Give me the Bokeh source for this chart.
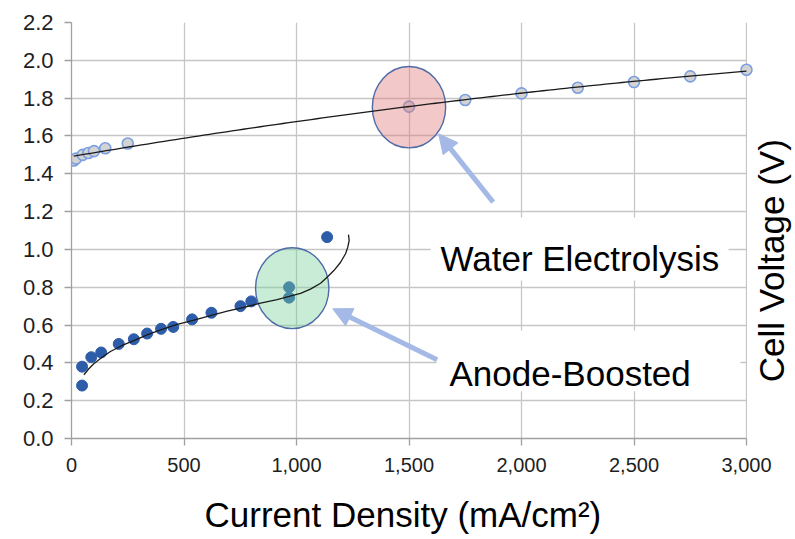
import numpy as np
from bokeh.plotting import figure
from bokeh.models import (Range1d, FixedTicker, NumeralTickFormatter, Label, LinearAxis,
                          BoxAnnotation, Arrow, NormalHead)
from bokeh.embed import file_html
from bokeh.resources import INLINE

# Water electrolysis polarization data (mA/cm2, V)
we_current = [10, 20, 50, 75, 100, 150, 250, 1500, 1750, 2000, 2250, 2500, 2750, 3000]
we_voltage = [1.47, 1.48, 1.50, 1.51, 1.52, 1.535, 1.56, 1.755, 1.79, 1.825, 1.855, 1.885, 1.915, 1.95]

# Anode-boosted electrolysis polarization data (mA/cm2, V)
ab_current = [47, 47, 88, 132, 210, 277, 336, 398, 452, 536, 622, 751, 799, 967, 967, 1136]
ab_voltage = [0.38, 0.28, 0.43, 0.455, 0.50, 0.525, 0.555, 0.58, 0.59, 0.63, 0.665, 0.70, 0.725, 0.80, 0.745, 1.065]

# Trend curve for the anode-boosted cell
ab_trend_current = [55, 77, 99, 136, 173, 225, 277, 336, 396, 470, 536, 618, 692, 766, 840,
                    914, 967, 1018, 1062, 1107, 1136, 1166, 1196, 1218, 1228, 1234, 1231]
ab_trend_voltage = [0.337, 0.369, 0.395, 0.43, 0.46, 0.492, 0.518, 0.548, 0.575, 0.603, 0.624,
                    0.65, 0.673, 0.694, 0.716, 0.735, 0.751, 0.768, 0.79, 0.821, 0.853, 0.888,
                    0.932, 0.977, 1.012, 1.047, 1.078]

x_ticks = [0, 500, 1000, 1500, 2000, 2500, 3000]
y_ticks = [0.0, 0.2, 0.4, 0.6, 0.8, 1.0, 1.2, 1.4, 1.6, 1.8, 2.0, 2.2]
X_MAX = 3000
Y_MAX = 2.2
X_TITLE = "Current Density (mA/cm²)"
X_TITLE_AT = 1473   # current density under the title's centre

FONT = "Liberation Sans"
GRID = "#c6c6c6"
AXIS = "#a0a0a0"
ARROW = "#a4b9e6"

W, H = 795, 539
LEFT, AXIS_END_PX = 71, 746
# the plotting frame runs to the right edge so the voltage title can sit
# beside the axis; the visible axis stops at X_MAX
x_end = X_MAX * (W - LEFT) / (AXIS_END_PX - LEFT)

p = figure(width=W, height=H, output_backend="svg", toolbar_location=None,
           x_range=Range1d(0, x_end), y_range=Range1d(0, Y_MAX),
           min_border_left=LEFT, min_border_right=0, min_border_top=22,
           min_border_bottom=101)
p.outline_line_color = None
p.background_fill_color = "white"
p.border_fill_color = "white"

for ax in (p.xaxis[0], p.yaxis[0]):
    ax.axis_line_color = AXIS
    ax.axis_line_width = 1.3
    ax.major_tick_line_color = AXIS
    ax.major_tick_line_width = 1.3
    ax.major_tick_out = 7
    ax.major_tick_in = 0
    ax.minor_tick_line_color = None
    ax.major_label_text_font = FONT
    ax.major_label_text_color = "#1e1e1e"

p.xaxis.bounds = (0, X_MAX)
p.xaxis.ticker = FixedTicker(ticks=x_ticks)
p.xaxis.formatter = NumeralTickFormatter(format="0,0")
p.xaxis.major_label_text_font_size = "20px"
p.xaxis.major_label_standoff = 12

p.yaxis.ticker = FixedTicker(ticks=y_ticks)
p.yaxis.formatter = NumeralTickFormatter(format="0.0")
p.yaxis.major_label_text_font_size = "22px"
p.yaxis.major_label_standoff = 11

# current density title, set as the single label of a bare second axis
title_axis = LinearAxis(ticker=FixedTicker(ticks=[X_TITLE_AT]),
                        major_label_overrides={X_TITLE_AT: X_TITLE},
                        axis_line_color=None, major_tick_line_color=None,
                        minor_tick_line_color=None, major_tick_out=0, major_tick_in=0,
                        major_label_standoff=20, major_label_text_font=FONT,
                        major_label_text_font_size="35px", major_label_text_color="black")
p.add_layout(title_axis, "below")

p.xgrid.grid_line_color = GRID
p.ygrid.grid_line_color = GRID
p.xgrid.grid_line_width = 1.3
p.ygrid.grid_line_width = 1.3

# blank strip right of the axis end, over the grid lines
p.add_layout(BoxAnnotation(left=X_MAX + 3, right=x_end, bottom=0, top=Y_MAX,
                           fill_color="white", fill_alpha=1.0, line_color=None,
                           level="underlay"))

# data points
p.scatter(ab_current, ab_voltage, marker="circle", size=11,
          fill_color="#2d5ca9", line_color="#2d5ca9", line_width=1)
p.scatter(we_current, we_voltage, marker="circle", size=11,
          fill_color="#d3d3d3", line_color="#7c9fe0", line_width=1.6)

# highlight ellipses
p.ellipse(x=[981], y=[0.795], width=326, height=0.428,
          fill_color="#75cf98", fill_alpha=0.4, line_color="#4e6ba8", line_width=1.4)
p.ellipse(x=[1500], y=[1.752], width=326, height=0.43,
          fill_color="#de7575", fill_alpha=0.4, line_color="#4e6ba8", line_width=1.4)

# trend lines
coef = np.polyfit(we_current, we_voltage, 2)
we_fit_x = np.linspace(min(we_current), max(we_current), 120)
p.line(we_fit_x, np.polyval(coef, we_fit_x), line_color="#1a1a1a", line_width=1.3)
p.line(ab_trend_current, ab_trend_voltage, line_color="#1a1a1a", line_width=1.3)

# white boxes behind the callout texts
p.add_layout(BoxAnnotation(left=1596, right=2920, top=1.169, bottom=0.836,
                           fill_color="white", fill_alpha=1.0, line_color=None))
p.add_layout(BoxAnnotation(left=1622, right=2973, top=0.571, bottom=0.25,
                           fill_color="white", fill_alpha=1.0, line_color=None))

# callout arrows
p.add_layout(Arrow(end=NormalHead(size=19, fill_color=ARROW, line_color=ARROW),
                   x_start=1874, y_start=1.25, x_end=1632, y_end=1.611,
                   line_color=ARROW, line_width=5))
p.add_layout(Arrow(end=NormalHead(size=19, fill_color=ARROW, line_color=ARROW),
                   x_start=1625, y_start=0.416, x_end=1161, y_end=0.686,
                   line_color=ARROW, line_width=5))

p.add_layout(Label(x=1640, y=0.952, text="Water Electrolysis", text_font=FONT,
                   text_font_size="35px", text_color="black",
                   text_baseline="alphabetic", text_align="left"))
p.add_layout(Label(x=1680, y=0.344, text="Anode-Boosted", text_font=FONT,
                   text_font_size="35px", text_color="black",
                   text_baseline="alphabetic", text_align="left"))

# voltage axis title, reading upwards beside the plot
p.add_layout(Label(x=X_MAX, x_offset=25, y=0.94, text="Cell Voltage (V)",
                   angle=np.pi / 2, text_font=FONT, text_font_size="35px",
                   text_color="black", text_baseline="middle", text_align="center"))

open("out.html", "w").write(file_html(p, INLINE))
